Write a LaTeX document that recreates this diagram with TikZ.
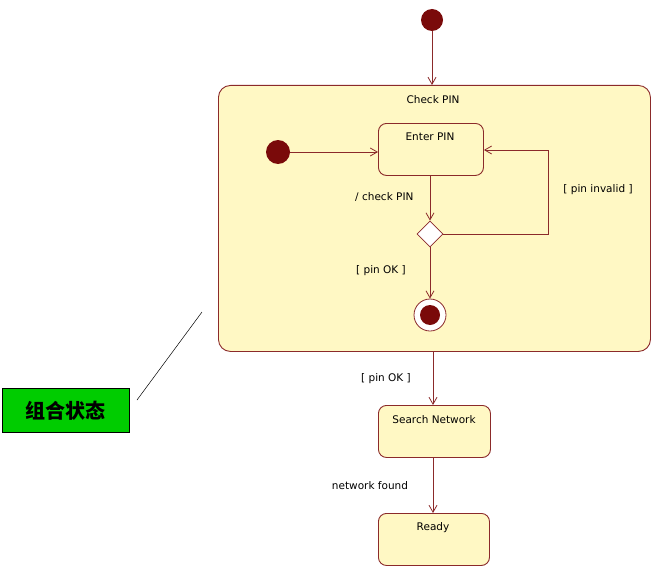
\documentclass[tikz,border=0pt]{standalone}
\usepackage{fontspec}
\setmainfont{DejaVu Sans}
\newfontfamily\cjk{Noto Sans CJK SC}
\usetikzlibrary{arrows.meta,shapes.geometric}
\definecolor{umlline}{HTML}{8B2A2A}
\definecolor{umlfill}{HTML}{FFF8C4}
\definecolor{dotred}{HTML}{7A0A0A}
\definecolor{notegreen}{HTML}{00CC00}
\tikzset{
  state/.style={draw=umlline, fill=umlfill, rounded corners=8pt, line width=0.9pt,
    minimum width=107pt, minimum height=52pt, anchor=north west},
  trans/.style={draw=umlline, line width=0.8pt, -{Straight Barb[length=7pt,width=8pt]}},
  lbl/.style={font=\fontsize{10.5}{12}\selectfont},
  initial/.style={circle, fill=dotred, inner sep=0pt, minimum size=22pt},
}
\begin{document}
\begin{tikzpicture}[x=1pt,y=-1pt]
\useasboundingbox (0,0) rectangle (655,575);
% composite state
\node[state, minimum width=432pt, minimum height=266pt, rounded corners=12pt] (checkPin) at (218,85) {};
\node[lbl] at (433,100) {Check PIN};
\node[initial] (start) at (432,20) {};
\draw[trans] (start) -- (checkPin.north -| start);
% inner states
\node[state, minimum width=105pt] (enterPin) at (378,123) {};
\node[lbl] at (430,137) {Enter PIN};
\node[initial, minimum size=24pt] (innerStart) at (278,152) {};
\draw[trans] (innerStart) -- (enterPin.west |- innerStart);
\node[diamond, draw=umlline, fill=white, line width=0.8pt, inner sep=0pt, minimum size=26pt] (choice) at (430,234) {};
\draw[trans] (enterPin.south -| choice) -- (choice.north);
\node[lbl, anchor=east] at (417,197) {/ check PIN};
\draw[trans] (choice.east) -- (548,234) -- (548,150) -- (enterPin.east |- 0,150);
\node[lbl] at (598,190) {[ pin invalid ]};
\node[circle, draw=umlline, fill=white, line width=0.8pt, minimum size=32pt, inner sep=0pt] (final) at (430,315) {};
\node[circle, fill=dotred, minimum size=20pt, inner sep=0pt] at (final) {};
\draw[trans] (choice.south) -- (final.north);
\node[lbl] at (381,271) {[ pin OK ]};
% outer states
\node[state, minimum width=112pt] (search) at (378,405) {};
\node[lbl] at (434,420) {Search Network};
\node[state, minimum width=111pt] (ready) at (378,513) {};
\node[lbl] at (433,528) {Ready};
\draw[trans] (433,351) -- (433,405);
\node[lbl] at (386,379) {[ pin OK ]};
\draw[trans] (search.south -| 433,0) -- (433,513);
\node[lbl] at (370,486) {network found};
% note
\node[draw=black, fill=notegreen, line width=0.8pt, minimum width=127pt, minimum height=44pt, anchor=north west,
  font=\cjk\bfseries\fontsize{20}{22}\selectfont] (note) at (2,388) {组合状态};
\coordinate (noteTip) at (202,312);
\draw[black, line width=0.5pt] (137,400) -- (noteTip);
\end{tikzpicture}
\end{document}
